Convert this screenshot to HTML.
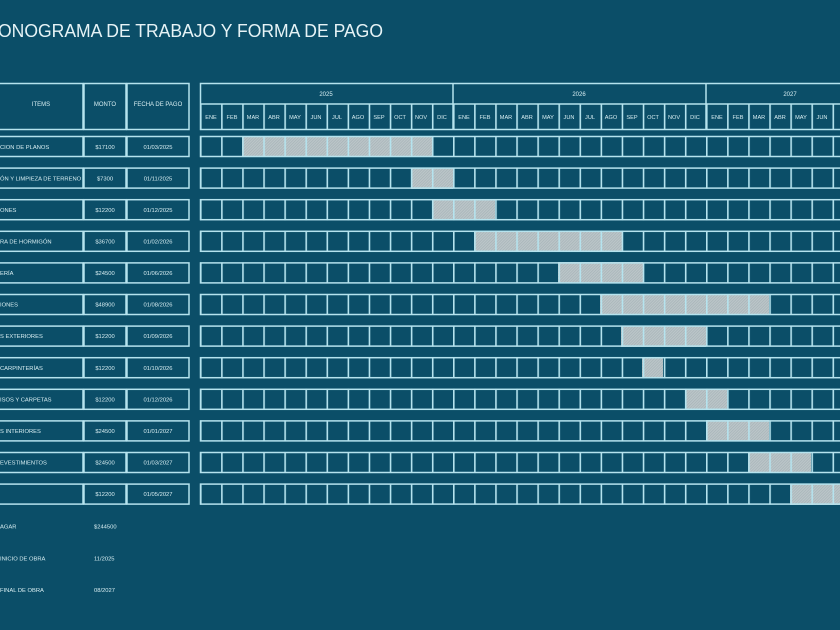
<!DOCTYPE html>
<html><head><meta charset="utf-8"><style>
html,body{margin:0;padding:0;background:#0b4e68;}
svg{display:block;font-family:"Liberation Sans",sans-serif;}
</style></head><body>
<svg width="840" height="630" viewBox="0 0 840 630" xmlns="http://www.w3.org/2000/svg">
<defs>
<pattern id="vl" patternUnits="userSpaceOnUse" x="200" y="0" width="21.083" height="10">
<rect x="0" y="0" width="1.6" height="10" fill="#b5e3ee"/>
</pattern>
<pattern id="hatch" patternUnits="userSpaceOnUse" width="2" height="2" patternTransform="rotate(45)">
<rect width="2" height="2" fill="#bcc6c9"/>
<rect width="0.7" height="2" fill="#a5b3b7"/>
</pattern>
</defs>
<rect width="840" height="630" fill="#0b4e68"/>
<text x="-2" y="37" font-size="18" fill="#e6f3f6" textLength="385" lengthAdjust="spacingAndGlyphs">ONOGRAMA DE TRABAJO Y FORMA DE PAGO</text>

<g fill="none" stroke="#b5e3ee" stroke-width="1.5">
<rect x="-5" y="83.5" width="88" height="46"/>
<rect x="84" y="83.5" width="42" height="46"/>
<rect x="127" y="83.5" width="62" height="46"/>
<rect x="200.5" y="83.5" width="645" height="46"/>
<line x1="200" y1="104" x2="840" y2="104"/>
<line x1="453" y1="83" x2="453" y2="130"/>
<line x1="706" y1="83" x2="706" y2="130"/>
</g>
<rect x="200" y="104" width="640" height="26" fill="url(#vl)"/>
<g font-size="6" fill="#d8eef2" text-anchor="middle">
<text x="41" y="106">ITEMS</text><text x="105" y="106">MONTO</text><text x="158" y="106">FECHA DE PAGO</text>
<text x="326" y="96">2025</text><text x="579" y="96">2026</text><text x="790" y="96">2027</text>
</g>
<g font-size="5.6" fill="#d8eef2" text-anchor="middle">
<text x="211" y="119">ENE</text><text x="232" y="119">FEB</text><text x="253" y="119">MAR</text><text x="274" y="119">ABR</text><text x="295" y="119">MAY</text><text x="316" y="119">JUN</text><text x="337" y="119">JUL</text><text x="358" y="119">AGO</text><text x="379" y="119">SEP</text><text x="400" y="119">OCT</text><text x="421" y="119">NOV</text><text x="442" y="119">DIC</text>
<text x="464" y="119">ENE</text><text x="485" y="119">FEB</text><text x="506" y="119">MAR</text><text x="527" y="119">ABR</text><text x="548" y="119">MAY</text><text x="569" y="119">JUN</text><text x="590" y="119">JUL</text><text x="611" y="119">AGO</text><text x="632" y="119">SEP</text><text x="653" y="119">OCT</text><text x="674" y="119">NOV</text><text x="695" y="119">DIC</text>
<text x="717" y="119">ENE</text><text x="738" y="119">FEB</text><text x="759" y="119">MAR</text><text x="780" y="119">ABR</text><text x="801" y="119">MAY</text><text x="822" y="119">JUN</text>
</g>

<g fill="url(#hatch)">
<rect x="242" y="136" width="190" height="21"/>
<rect x="411" y="168" width="42" height="21"/>
<rect x="432" y="199" width="63" height="21"/>
<rect x="474" y="231" width="148" height="21"/>
<rect x="558" y="262" width="85" height="21"/>
<rect x="600" y="294" width="169" height="21"/>
<rect x="621" y="326" width="85" height="21"/>
<rect x="642" y="357" width="21" height="21"/>
<rect x="685" y="389" width="42" height="21"/>
<rect x="706" y="420" width="63" height="21"/>
<rect x="748" y="452" width="63" height="21"/>
<rect x="790" y="484" width="50" height="21"/>
</g>

<g>
<g transform="translate(0,136)"><rect x="200" y="0" width="640" height="21" fill="url(#vl)"/><rect x="200.5" y="0.5" width="645" height="20" fill="none" stroke="#b5e3ee" stroke-width="1.5"/><rect x="-5" y="0.5" width="88" height="20" fill="none" stroke="#b5e3ee" stroke-width="1.5"/><rect x="84" y="0.5" width="42" height="20" fill="none" stroke="#b5e3ee" stroke-width="1.5"/><rect x="127" y="0.5" width="62" height="20" fill="none" stroke="#b5e3ee" stroke-width="1.5"/></g>
<g transform="translate(0,167.6)"><rect x="200" y="0" width="640" height="21" fill="url(#vl)"/><rect x="200.5" y="0.5" width="645" height="20" fill="none" stroke="#b5e3ee" stroke-width="1.5"/><rect x="-5" y="0.5" width="88" height="20" fill="none" stroke="#b5e3ee" stroke-width="1.5"/><rect x="84" y="0.5" width="42" height="20" fill="none" stroke="#b5e3ee" stroke-width="1.5"/><rect x="127" y="0.5" width="62" height="20" fill="none" stroke="#b5e3ee" stroke-width="1.5"/></g>
<g transform="translate(0,199.2)"><rect x="200" y="0" width="640" height="21" fill="url(#vl)"/><rect x="200.5" y="0.5" width="645" height="20" fill="none" stroke="#b5e3ee" stroke-width="1.5"/><rect x="-5" y="0.5" width="88" height="20" fill="none" stroke="#b5e3ee" stroke-width="1.5"/><rect x="84" y="0.5" width="42" height="20" fill="none" stroke="#b5e3ee" stroke-width="1.5"/><rect x="127" y="0.5" width="62" height="20" fill="none" stroke="#b5e3ee" stroke-width="1.5"/></g>
<g transform="translate(0,230.8)"><rect x="200" y="0" width="640" height="21" fill="url(#vl)"/><rect x="200.5" y="0.5" width="645" height="20" fill="none" stroke="#b5e3ee" stroke-width="1.5"/><rect x="-5" y="0.5" width="88" height="20" fill="none" stroke="#b5e3ee" stroke-width="1.5"/><rect x="84" y="0.5" width="42" height="20" fill="none" stroke="#b5e3ee" stroke-width="1.5"/><rect x="127" y="0.5" width="62" height="20" fill="none" stroke="#b5e3ee" stroke-width="1.5"/></g>
<g transform="translate(0,262.4)"><rect x="200" y="0" width="640" height="21" fill="url(#vl)"/><rect x="200.5" y="0.5" width="645" height="20" fill="none" stroke="#b5e3ee" stroke-width="1.5"/><rect x="-5" y="0.5" width="88" height="20" fill="none" stroke="#b5e3ee" stroke-width="1.5"/><rect x="84" y="0.5" width="42" height="20" fill="none" stroke="#b5e3ee" stroke-width="1.5"/><rect x="127" y="0.5" width="62" height="20" fill="none" stroke="#b5e3ee" stroke-width="1.5"/></g>
<g transform="translate(0,294)"><rect x="200" y="0" width="640" height="21" fill="url(#vl)"/><rect x="200.5" y="0.5" width="645" height="20" fill="none" stroke="#b5e3ee" stroke-width="1.5"/><rect x="-5" y="0.5" width="88" height="20" fill="none" stroke="#b5e3ee" stroke-width="1.5"/><rect x="84" y="0.5" width="42" height="20" fill="none" stroke="#b5e3ee" stroke-width="1.5"/><rect x="127" y="0.5" width="62" height="20" fill="none" stroke="#b5e3ee" stroke-width="1.5"/></g>
<g transform="translate(0,325.6)"><rect x="200" y="0" width="640" height="21" fill="url(#vl)"/><rect x="200.5" y="0.5" width="645" height="20" fill="none" stroke="#b5e3ee" stroke-width="1.5"/><rect x="-5" y="0.5" width="88" height="20" fill="none" stroke="#b5e3ee" stroke-width="1.5"/><rect x="84" y="0.5" width="42" height="20" fill="none" stroke="#b5e3ee" stroke-width="1.5"/><rect x="127" y="0.5" width="62" height="20" fill="none" stroke="#b5e3ee" stroke-width="1.5"/></g>
<g transform="translate(0,357.2)"><rect x="200" y="0" width="640" height="21" fill="url(#vl)"/><rect x="200.5" y="0.5" width="645" height="20" fill="none" stroke="#b5e3ee" stroke-width="1.5"/><rect x="-5" y="0.5" width="88" height="20" fill="none" stroke="#b5e3ee" stroke-width="1.5"/><rect x="84" y="0.5" width="42" height="20" fill="none" stroke="#b5e3ee" stroke-width="1.5"/><rect x="127" y="0.5" width="62" height="20" fill="none" stroke="#b5e3ee" stroke-width="1.5"/></g>
<g transform="translate(0,388.8)"><rect x="200" y="0" width="640" height="21" fill="url(#vl)"/><rect x="200.5" y="0.5" width="645" height="20" fill="none" stroke="#b5e3ee" stroke-width="1.5"/><rect x="-5" y="0.5" width="88" height="20" fill="none" stroke="#b5e3ee" stroke-width="1.5"/><rect x="84" y="0.5" width="42" height="20" fill="none" stroke="#b5e3ee" stroke-width="1.5"/><rect x="127" y="0.5" width="62" height="20" fill="none" stroke="#b5e3ee" stroke-width="1.5"/></g>
<g transform="translate(0,420.4)"><rect x="200" y="0" width="640" height="21" fill="url(#vl)"/><rect x="200.5" y="0.5" width="645" height="20" fill="none" stroke="#b5e3ee" stroke-width="1.5"/><rect x="-5" y="0.5" width="88" height="20" fill="none" stroke="#b5e3ee" stroke-width="1.5"/><rect x="84" y="0.5" width="42" height="20" fill="none" stroke="#b5e3ee" stroke-width="1.5"/><rect x="127" y="0.5" width="62" height="20" fill="none" stroke="#b5e3ee" stroke-width="1.5"/></g>
<g transform="translate(0,452)"><rect x="200" y="0" width="640" height="21" fill="url(#vl)"/><rect x="200.5" y="0.5" width="645" height="20" fill="none" stroke="#b5e3ee" stroke-width="1.5"/><rect x="-5" y="0.5" width="88" height="20" fill="none" stroke="#b5e3ee" stroke-width="1.5"/><rect x="84" y="0.5" width="42" height="20" fill="none" stroke="#b5e3ee" stroke-width="1.5"/><rect x="127" y="0.5" width="62" height="20" fill="none" stroke="#b5e3ee" stroke-width="1.5"/></g>
<g transform="translate(0,483.6)"><rect x="200" y="0" width="640" height="21" fill="url(#vl)"/><rect x="200.5" y="0.5" width="645" height="20" fill="none" stroke="#b5e3ee" stroke-width="1.5"/><rect x="-5" y="0.5" width="88" height="20" fill="none" stroke="#b5e3ee" stroke-width="1.5"/><rect x="84" y="0.5" width="42" height="20" fill="none" stroke="#b5e3ee" stroke-width="1.5"/><rect x="127" y="0.5" width="62" height="20" fill="none" stroke="#b5e3ee" stroke-width="1.5"/></g>
</g>

<g font-size="5.8" fill="#d8eef2">
<text x="0" y="149">CION DE PLANOS</text>
<text x="0" y="180.5">ÓN Y LIMPIEZA DE TERRENO</text>
<text x="0" y="212">ONES</text>
<text x="0" y="243.5">RA DE HORMIGÓN</text>
<text x="0" y="275">ERÍA</text>
<text x="0" y="306.5">IONES</text>
<text x="0" y="338">S EXTERIORES</text>
<text x="0" y="370">CARPINTERÍAS</text>
<text x="0" y="401.5">ISOS Y CARPETAS</text>
<text x="0" y="433">S INTERIORES</text>
<text x="0" y="464.5">EVESTIMIENTOS</text>
<text x="0" y="528.5">AGAR</text>
<text x="0" y="560.5">INICIO DE OBRA</text>
<text x="0" y="592">FINAL DE OBRA</text>
<text x="94" y="528.5">$244500</text>
<text x="94" y="560.5">11/2025</text>
<text x="94" y="592">08/2027</text>
</g>
<g font-size="5.8" fill="#d8eef2" text-anchor="middle">
<text x="105" y="149">$17100</text><text x="158" y="149">01/03/2025</text>
<text x="105" y="180.5">$7300</text><text x="158" y="180.5">01/11/2025</text>
<text x="105" y="212">$12200</text><text x="158" y="212">01/12/2025</text>
<text x="105" y="243.5">$36700</text><text x="158" y="243.5">01/02/2026</text>
<text x="105" y="275">$24500</text><text x="158" y="275">01/06/2026</text>
<text x="105" y="306.5">$48900</text><text x="158" y="306.5">01/08/2026</text>
<text x="105" y="338">$12200</text><text x="158" y="338">01/09/2026</text>
<text x="105" y="370">$12200</text><text x="158" y="370">01/10/2026</text>
<text x="105" y="401.5">$12200</text><text x="158" y="401.5">01/12/2026</text>
<text x="105" y="433">$24500</text><text x="158" y="433">01/01/2027</text>
<text x="105" y="464.5">$24500</text><text x="158" y="464.5">01/03/2027</text>
<text x="105" y="496">$12200</text><text x="158" y="496">01/05/2027</text>
</g>
</svg>
</body></html>
